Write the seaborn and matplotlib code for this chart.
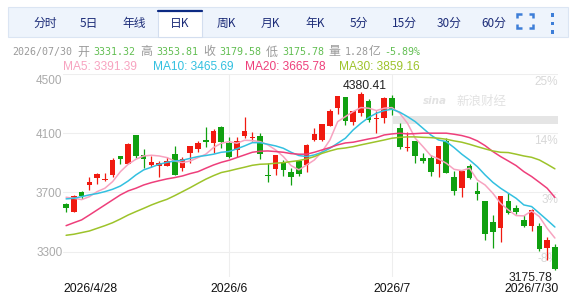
import numpy as np
import pandas as pd
import matplotlib
matplotlib.use('Agg')
import matplotlib.pyplot as plt
import seaborn as sns
from matplotlib.lines import Line2D
from matplotlib.patches import Rectangle
from matplotlib.transforms import blended_transform_factory

# ---- daily K data (2026/4/28 .. 2026/7/30) ----
opens = [3622, 3570, 3703, 3752, 3798, 3784, 3818, 3946, 3894, 4088,
         3953, 3885, 3881, 3881, 3960, 3867, 3967, 3996, 4052, 4034,
         4142, 4034, 3985, 4082, 4066, 4081, 3818, 3858, 3899, 3838,
         3912, 3885, 4054, 4054, 4149, 4269, 4343, 4178, 4239, 4320,
         4196, 4201, 4336, 4138, 4003, 4048, 3930, 3933, 3890, 4048,
         3802, 3728, 3879, 3710, 3642, 3502, 3462, 3642, 3597, 3514,
         3475, 3473, 3326, 3331.32]
highs = [3631, 3680, 3712, 3807, 3831, 3831, 3933, 3946, 4034, 4088,
         3994, 3946, 3912, 3942, 4014, 3942, 4014, 4050, 4145, 4131,
         4151, 4075, 4075, 4212, 4106, 4100, 3897, 3953, 3919, 3863,
         3919, 4027, 4138, 4163, 4266, 4352, 4343, 4251, 4380.41, 4332,
         4251, 4345, 4359, 4167, 4106, 4048, 3964, 3953, 4016, 4070,
         3845, 3845, 3892, 3773, 3642, 3547, 3676, 3694, 3615, 3547,
         3586, 3491, 3401, 3353.81]
lows = [3570, 3570, 3655, 3716, 3755, 3777, 3807, 3890, 3890, 3930,
        3867, 3874, 3802, 3881, 3818, 3847, 3897, 3976, 4009, 3967,
        4003, 3935, 3942, 4070, 4050, 3926, 3768, 3818, 3813, 3748,
        3813, 3836, 4048, 4050, 4149, 4228, 4154, 4156, 4219, 4178,
        4100, 4172, 4224, 3994, 3980, 3897, 3897, 3813, 3807, 3834,
        3683, 3667, 3789, 3649, 3380, 3326, 3367, 3552, 3552, 3464,
        3439, 3304, 3243, 3175.78]
closes = [3592, 3676, 3674, 3770, 3825, 3791, 3919, 3928, 4027, 3949,
          3924, 3903, 3901, 3912, 3818, 3924, 4014, 4034, 4043, 4118,
          4043, 3942, 4045, 4115, 4075, 3960, 3811, 3953, 3854, 3807,
          3827, 4021, 4095, 4163, 4253, 4352, 4185, 4251, 4366, 4187,
          4205, 4336, 4260, 4009, 4009, 3944, 3910, 3840, 4016, 3834,
          3710, 3845, 3800, 3687, 3421, 3435, 3676, 3559, 3570, 3475,
          3581, 3315, 3378.60, 3179.58]

ma5 = [3667, 3660, 3651, 3671, 3705, 3728, 3773, 3840, 3890, 3924,
       3946, 3951, 3946, 3935, 3912, 3901, 3912, 3935, 3958, 4003,
       4032, 4043, 4032, 4052, 4050, 4043, 4021, 3987, 3942, 3881,
       3852, 3885, 3919, 3976, 4054, 4178, 4212, 4246, 4273, 4269,
       4253, 4269, 4273, 4235, 4167, 4066, 4009, 3949, 3926, 3897,
       3856, 3847, 3863, 3784, 3750, 3694, 3626, 3581, 3543, 3541,
       3574, 3536, 3457, 3391.39]
ma10 = [3656, 3660, 3671, 3683, 3692, 3705, 3721, 3743, 3777, 3818,
        3852, 3870, 3890, 3903, 3912, 3917, 3930, 3942, 3949, 3958,
        3971, 3976, 3994, 4014, 4036, 4036, 4025, 4014, 3998, 3971,
        3949, 3942, 3953, 3971, 3998, 4032, 4066, 4122, 4167, 4206,
        4235, 4253, 4262, 4242, 4212, 4178, 4133, 4088, 4054, 4043,
        4003, 3958, 3919, 3874, 3818, 3768, 3728, 3694, 3660, 3615,
        3604, 3559, 3513, 3465.69]
ma20 = [3475, 3495, 3514, 3547, 3581, 3615, 3649, 3683, 3710, 3728,
        3750, 3766, 3779, 3791, 3800, 3811, 3827, 3840, 3863, 3885,
        3903, 3917, 3935, 3953, 3971, 3978, 3980, 3976, 3971, 3962,
        3958, 3958, 3971, 3987, 4003, 4021, 4034, 4039, 4050, 4061,
        4070, 4088, 4095, 4100, 4095, 4097, 4100, 4100, 4100, 4100,
        4093, 4084, 4070, 4048, 4016, 3976, 3942, 3912, 3881, 3840,
        3807, 3768, 3728, 3665.78]
ma30 = [3410, 3417, 3428, 3439, 3457, 3475, 3495, 3520, 3547, 3570,
        3592, 3615, 3635, 3653, 3678, 3705, 3732, 3761, 3789, 3813,
        3834, 3845, 3858, 3870, 3883, 3890, 3892, 3897, 3901, 3908,
        3915, 3926, 3942, 3964, 3980, 3994, 4000, 4009, 4021, 4032,
        4043, 4054, 4066, 4072, 4075, 4075, 4072, 4070, 4066, 4059,
        4048, 4039, 4025, 4009, 3994, 3980, 3971, 3969, 3958, 3946,
        3937, 3919, 3890, 3859.16]

tabs = ['分时', '5日', '年线', '日K', '周K', '月K', '年K', '5分', '15分', '30分', '60分']
price_ticks = [4500, 4100, 3700, 3300]
pct_labels = ['25%', '14%', '3%', '-8%']
date_first, date_mid, date_last = '2026/4/28', ['2026/6', '2026/7'], '2026/7/30'
mid_pos = [21, 42]
last_date = '2026/07/30'
volume = '1.28亿'
change = '-5.89%'

ma_names = ['MA5', 'MA10', 'MA20', 'MA30']
ma_colors = {'MA5': '#f7a3c0', 'MA10': '#33c0e0', 'MA20': '#ee3f7b', 'MA30': '#9dc32a'}
RED, GREEN = '#f01a10', '#10a010'

sns.set_theme(style='white')
plt.rcParams['font.family'] = ['Liberation Sans', 'Noto Sans CJK SC', 'DejaVu Sans']
CJK = ['Noto Sans CJK SC', 'DejaVu Sans']
MONO = ['DejaVu Sans Mono']

W, H = 579, 298
fig = plt.figure(figsize=(W / 100, H / 100), dpi=100)
fig.patch.set_facecolor('white')


def fx(x):
    return x / W


def fy(y):
    return 1 - y / H


# ---- tab bar ----
fig.add_artist(Rectangle((fx(8), fy(37)), fx(568) - fx(8), fy(7) - fy(37), transform=fig.transFigure,
                         facecolor='#eef4fc', edgecolor='#dbe5f3', lw=0.8))
fig.add_artist(Rectangle((fx(158), fy(37)), fx(202) - fx(158), fy(10) - fy(37), transform=fig.transFigure,
                         facecolor='white', edgecolor='#d3deef', lw=0.8))
fig.add_artist(Line2D([fx(158), fx(202)], [fy(10.8), fy(10.8)], transform=fig.transFigure,
                      color='#0c2a83', lw=1.6))
tab_x = [45, 89, 134, 180, 226, 270, 315.5, 359, 404.5, 449, 494]
for t, x in zip(tabs, tab_x):
    fig.text(fx(x), fy(23.5), t, ha='center', va='center', fontsize=8.5, color='#1c2c78', family=CJK)

icon_c = '#3d7ed8'
for pts in [[(517, 18), (517, 13.5), (521.5, 13.5)], [(528.5, 13.5), (533, 13.5), (533, 18)],
            [(517, 23.5), (517, 28), (521.5, 28)], [(528.5, 28), (533, 28), (533, 23.5)]]:
    fig.add_artist(Line2D([fx(p[0]) for p in pts], [fy(p[1]) for p in pts], transform=fig.transFigure,
                          color=icon_c, lw=1.8, solid_joinstyle='miter', solid_capstyle='butt'))
for yy in [15, 23.3, 32]:
    fig.add_artist(Rectangle((fx(550.8), fy(yy + 1.5)), 3 / W, 3 / H, transform=fig.transFigure,
                             facecolor=icon_c, lw=0))

# ---- info line ----
GRAY, VAL = '#9a9a9a', '#62be52'
info = [(last_date, 12, GRAY, MONO), ('开', 77, GRAY, CJK), (f'{opens[-1]:.2f}', 93, VAL, MONO),
        ('高', 140, GRAY, CJK), (f'{highs[-1]:.2f}', 156, VAL, MONO),
        ('收', 203, GRAY, CJK), (f'{closes[-1]:.2f}', 219, VAL, MONO),
        ('低', 266, GRAY, CJK), (f'{lows[-1]:.2f}', 282, VAL, MONO),
        ('量', 328, GRAY, CJK), (volume[:-1], 345, GRAY, MONO), (volume[-1], 369, GRAY, CJK),
        (change, 384, VAL, MONO)]
for txt, x, c, fam in info:
    fig.text(fx(x), fy(52), txt, ha='left', va='center', color=c, family=fam,
             fontsize=7.2 if fam == MONO else 8.6)

ma_vals = {'MA5': ma5, 'MA10': ma10, 'MA20': ma20, 'MA30': ma30}
for name, x in zip(ma_names, [63, 153, 245, 339]):
    fig.text(fx(x), fy(67.5), f'{name}: {ma_vals[name][-1]:.2f}', ha='left', va='center',
             color=ma_colors[name], fontsize=8.6)

# ---- main K chart ----
ax = fig.add_axes([fx(63), fy(277), fx(558) - fx(63), fy(74) - fy(277)])
ax.set_facecolor('white')
for s in ax.spines.values():
    s.set_visible(False)

idx = np.arange(len(opens))
o, h, l, c = map(np.array, (opens, highs, lows, closes))
cols = [RED if cc >= oo else GREEN for oo, cc in zip(o, c)]
ax.vlines(idx, l, h, colors=cols, lw=0.9, zorder=2)
ax.bar(idx, np.maximum(np.abs(c - o), 6), bottom=np.minimum(o, c), width=0.72, color=cols,
       lw=0, zorder=2.1)

ma_df = pd.DataFrame({
    'idx': np.tile(idx, 4),
    'value': ma5 + ma10 + ma20 + ma30,
    'ma': np.repeat(ma_names, len(idx)),
})
sns.lineplot(data=ma_df, x='idx', y='value', hue='ma', hue_order=ma_names, palette=ma_colors,
             estimator=None, sort=False, legend=False, lw=1.1, ax=ax, zorder=3)

ax.set_xlim(-0.4, 63.4)
ax.set_ylim(3128, 4500)
ax.set_xlabel('')
ax.set_ylabel('')

ax.set_yticks(price_ticks)
ax.set_yticklabels([''] + [str(p) for p in price_ticks[1:]])
ax.set_xticks(mid_pos)
ax.set_xticklabels(date_mid)
ax.grid(True, color='#eeeeee', lw=0.8)
ax.set_axisbelow(True)
ax.tick_params(axis='y', length=0, pad=0.5, labelcolor='#aaaaaa', labelsize=8.5)
ax.tick_params(axis='x', length=0, pad=4.6, labelcolor='#111111', labelsize=8.7)

ax.text(-0.001, 4455, str(price_ticks[0]), transform=blended_transform_factory(ax.transAxes, ax.transData),
        ha='right', va='center', color='#aaaaaa', fontsize=8.5)
ax.text(0, -0.0315, date_first, transform=ax.transAxes, ha='left', va='top', fontsize=8.7, color='#111111')
ax.text(1.002, -0.0315, date_last, transform=ax.transAxes, ha='right', va='top', fontsize=8.7, color='#111111')

bt = blended_transform_factory(ax.transAxes, ax.transData)
for p, lab in zip(price_ticks, pct_labels):
    ax.text(1.0, p - 12, lab, transform=bt, ha='right', va='top', color='#d8d8d8', fontsize=8.5, zorder=1)

# watermark + band
ax.text(fx(423), fy(101), 'sina', transform=fig.transFigure, ha='left', va='center', fontsize=7.5,
        style='italic', weight='bold', color='#e2e2e2', family=['DejaVu Sans'], zorder=0.5)
ax.text(fx(456), fy(101), '新浪财经', transform=fig.transFigure, ha='left', va='center', fontsize=9,
        color='#e2e2e2', family=CJK, zorder=0.5)
ax.axhspan(4162, 4216, xmin=0.666, xmax=1, color='#e5e5e5', lw=0, zorder=0.6)

imax = int(np.argmax(h))
ax.annotate(f'{h[imax]:.2f}', (imax, h[imax]), xytext=(2.9, 4.3), textcoords='offset points',
            ha='center', va='center', fontsize=8.7, color='#222222', zorder=5)
imin = int(np.argmin(l))
ax.annotate(f'{l[imin]:.2f}', (imin, l[imin]), xytext=(-1.5, -5.8), textcoords='offset points',
            ha='right', va='center', fontsize=8.7, color='#222222', zorder=5, annotation_clip=False)

fig.savefig('out.png', dpi=100)
